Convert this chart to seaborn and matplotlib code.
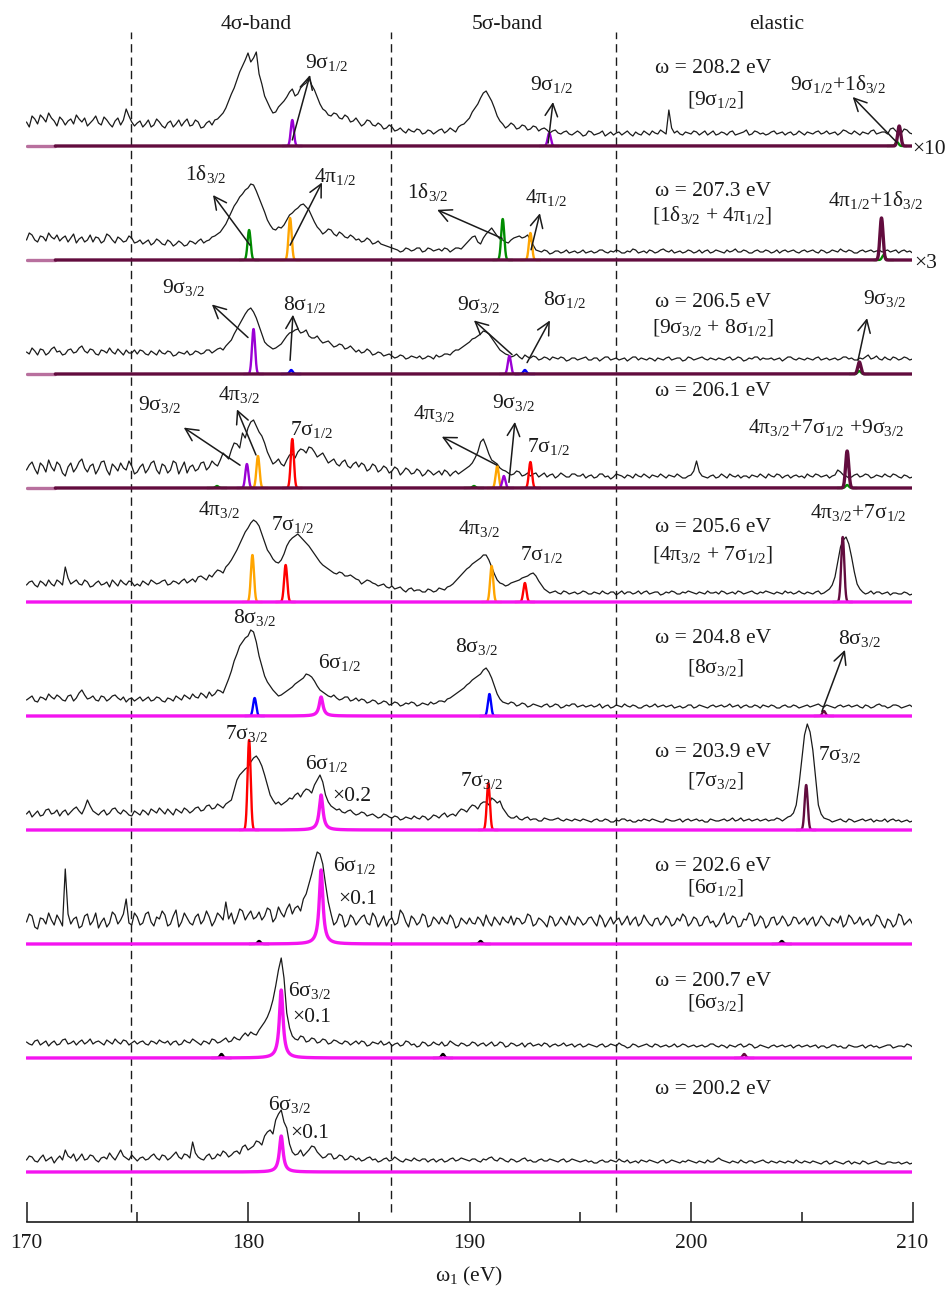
import numpy as np
import pandas as pd
import matplotlib
matplotlib.use("Agg")
import matplotlib.pyplot as plt
from matplotlib.ticker import MultipleLocator
import seaborn as sns

# ---------------------------------------------------------------- data
ENERGY = np.arange(170.0, 210.001, 0.25)          # omega_1 grid (eV)
ENERGY_MID = ENERGY[:-1] + 0.125                   # readings between grid points
OMEGA = ["208.2", "207.3", "206.5", "206.1", "205.6",
         "204.8", "203.9", "202.6", "200.7", "200.2"]
BOUNDARIES = [174.7, 186.46, 196.63]               # dashed region borders (eV)

SPEC_1 = [24, 30, 22, 28, 33, 25, 29, 21, 27, 31, 24, 20, 26, 23, 29, 22, 25, 21, 37, 24,
          23, 19, 26, 21, 24, 18, 25, 22, 20, 27, 21, 24, 19, 25, 26, 30, 38, 52, 66, 80,
          93, 88, 72, 50, 38, 34, 42, 49, 57, 52, 61, 68, 56, 42, 35, 30, 32, 27, 29, 25,
          24, 22, 25, 20, 21, 18, 19, 16, 15, 17, 14, 16, 13, 15, 14, 17, 15, 16, 19, 22,
          28, 38, 48, 55, 45, 30, 22, 20, 21, 18, 20, 17, 19, 17, 16, 15, 13, 14, 12, 13,
          13, 11, 14, 12, 15, 12, 11, 14, 13, 12, 14, 11, 13, 15, 12, 14, 36, 13, 12, 14,
          12, 14, 13, 11, 15, 12, 13, 14, 11, 13, 16, 12, 14, 13, 12, 15, 13, 11, 14, 12,
          13, 14, 12, 15, 13, 12, 14, 13, 15, 12, 13, 14, 12, 16, 13, 14, 17, 15, 13, 16,
          12]
SPEC_1_MID = [19, 27, 31, 24, 28, 20, 26, 25, 22, 27, 28, 23, 30, 21, 26, 19, 28, 26, 30, 20,
              25, 22, 19, 27, 20, 23, 19, 26, 24, 20, 26, 18, 23, 21, 27, 33, 45, 58, 74, 86,
              84, 94, 62, 44, 33, 39, 45, 54, 50, 58, 63, 61, 49, 37, 31, 33, 28, 31, 24, 28,
              20, 26, 21, 23, 17, 21, 15, 18, 13, 15, 17, 12, 16, 12, 16, 13, 18, 14, 21, 25,
              34, 42, 53, 50, 38, 25, 18, 23, 17, 21, 16, 20, 15, 18, 13, 16, 12, 15, 11, 15,
              10, 15, 11, 13, 10, 14, 13, 11, 15, 10, 12, 15, 11, 13, 16, 12, 18, 15, 11, 13,
              15, 11, 15, 13, 11, 14, 11, 15, 12, 14, 11, 15, 12, 11, 14, 12, 14, 13, 11, 15,
              11, 13, 14, 12, 15, 13, 11, 16, 13, 15, 11, 13, 15, 12, 14, 12, 18, 12, 17, 13]
SPEC_2 = [20, 25, 18, 23, 27, 21, 19, 24, 22, 17, 23, 20, 18, 22, 19, 24, 17, 21, 19, 22,
          18, 16, 20, 17, 19, 15, 18, 16, 17, 15, 18, 19, 17, 20, 24, 28, 36, 48, 58, 66,
          72, 75, 62, 48, 35, 30, 32, 40, 47, 52, 56, 50, 38, 30, 28, 30, 24, 26, 22, 23,
          21, 19, 20, 17, 16, 14, 12, 10, 9, 11, 10, 12, 9, 11, 10, 9, 11, 10, 12, 14,
          20, 24, 16, 26, 32, 24, 20, 17, 22, 24, 23, 20, 10, 8, 9, 7, 9, 8, 7, 9,
          8, 7, 9, 8, 10, 7, 8, 9, 7, 8, 10, 8, 7, 9, 8, 11, 8, 7, 9, 8,
          9, 8, 7, 10, 8, 9, 7, 8, 11, 8, 9, 7, 10, 8, 9, 8, 7, 10, 9, 8,
          9, 8, 10, 7, 9, 8, 9, 11, 8, 9, 7, 10, 9, 8, 10, 9, 8, 10, 9, 8,
          7]
SPEC_2_MID = [27, 20, 24, 19, 23, 25, 22, 18, 26, 21, 18, 25, 23, 17, 26, 20, 23, 18, 24, 17,
              20, 18, 15, 21, 16, 20, 14, 19, 14, 19, 16, 21, 19, 23, 26, 32, 42, 54, 63, 70,
              76, 69, 55, 40, 31, 33, 35, 45, 50, 55, 53, 44, 33, 26, 31, 26, 28, 23, 25, 20,
              18, 22, 16, 19, 15, 13, 11, 8, 12, 9, 12, 8, 12, 9, 11, 12, 8, 12, 11, 17,
              23, 18, 22, 29, 28, 21, 18, 20, 23, 22, 25, 15, 9, 10, 6, 9, 7, 10, 8, 7,
              10, 8, 7, 10, 8, 9, 10, 7, 9, 11, 7, 9, 10, 7, 10, 9, 10, 8, 7, 10,
              7, 10, 9, 7, 10, 8, 10, 9, 8, 10, 7, 9, 8, 10, 7, 10, 9, 8, 10, 7,
              10, 9, 8, 10, 7, 10, 8, 9, 10, 7, 9, 8, 10, 9, 8, 10, 9, 7, 10, 9]
SPEC_3 = [22, 26, 19, 24, 21, 27, 23, 20, 25, 22, 28, 21, 24, 19, 23, 26, 20, 22, 24, 21,
          20, 23, 19, 21, 24, 20, 22, 19, 21, 23, 20, 22, 21, 24, 23, 26, 28, 34, 45, 55,
          64, 62, 48, 32, 27, 26, 30, 38, 42, 45, 42, 38, 36, 34, 32, 30, 28, 29, 26, 25,
          24, 22, 23, 20, 21, 19, 18, 17, 18, 16, 17, 18, 16, 17, 19, 18, 20, 22, 24, 28,
          32, 36, 40, 42, 36, 28, 22, 19, 18, 17, 19, 16, 17, 15, 16, 17, 15, 16, 14, 16,
          15, 17, 14, 16, 15, 17, 15, 14, 16, 15, 17, 16, 14, 15, 16, 14, 17, 15, 16, 14,
          16, 15, 17, 14, 15, 16, 14, 17, 15, 16, 14, 15, 17, 16, 15, 14, 16, 15, 17, 14,
          15, 16, 14, 17, 15, 14, 16, 15, 17, 16, 14, 15, 19, 16, 15, 17, 14, 16, 15, 16,
          15]
SPEC_3_MID = [20, 23, 25, 19, 25, 22, 19, 24, 21, 26, 23, 25, 20, 24, 21, 22, 25, 19, 21, 24,
              24, 20, 23, 19, 21, 23, 18, 22, 20, 19, 23, 20, 24, 21, 25, 24, 31, 40, 50, 60,
              66, 56, 40, 29, 25, 28, 34, 41, 44, 41, 44, 36, 38, 31, 33, 27, 30, 25, 28, 22,
              21, 25, 19, 22, 18, 20, 16, 19, 15, 18, 16, 15, 18, 15, 17, 20, 19, 24, 26, 30,
              35, 38, 43, 40, 32, 24, 20, 17, 20, 15, 17, 18, 14, 17, 14, 16, 17, 13, 16, 14,
              16, 14, 16, 13, 17, 14, 16, 15, 13, 17, 14, 15, 16, 13, 15, 16, 14, 16, 13, 17,
              14, 16, 15, 16, 14, 15, 16, 14, 17, 13, 16, 17, 14, 15, 16, 15, 13, 17, 15, 16,
              14, 15, 16, 14, 16, 15, 14, 17, 15, 14, 16, 17, 15, 18, 14, 15, 17, 14, 17, 14]
SPEC_4 = [18, 26, 14, 22, 28, 17, 23, 12, 25, 20, 29, 16, 24, 19, 27, 13, 21, 25, 18, 22,
          16, 24, 19, 27, 14, 22, 18, 25, 20, 15, 23, 19, 26, 21, 24, 28, 32, 38, 44, 55,
          60, 68, 56, 45, 30, 26, 24, 28, 34, 36, 38, 41, 36, 33, 30, 27, 24, 26, 22, 24,
          21, 23, 19, 22, 18, 20, 17, 19, 16, 18, 15, 17, 14, 16, 15, 13, 16, 15, 14, 18,
          22, 30, 46, 42, 28, 24, 18, 15, 14, 16, 13, 12, 15, 13, 11, 14, 12, 13, 11, 14,
          12, 10, 13, 11, 14, 12, 11, 13, 10, 12, 14, 11, 12, 13, 11, 12, 13, 11, 12, 10,
          13, 27, 12, 10, 13, 11, 12, 14, 11, 10, 12, 13, 11, 12, 14, 11, 13, 12, 10, 13,
          12, 14, 11, 13, 12, 10, 13, 16, 12, 11, 14, 12, 13, 11, 12, 14, 11, 13, 10, 12,
          11]
SPEC_4_MID = [23, 19, 25, 16, 21, 26, 15, 21, 16, 26, 20, 22, 14, 26, 18, 24, 17, 20, 27, 14,
              21, 15, 25, 18, 24, 15, 27, 14, 26, 21, 17, 25, 18, 27, 22, 35, 29, 45, 40, 50,
              66, 62, 52, 36, 24, 29, 22, 33, 30, 39, 35, 40, 31, 35, 25, 29, 22, 28, 20, 26,
              25, 17, 24, 16, 22, 15, 21, 13, 20, 14, 19, 12, 18, 13, 17, 18, 12, 17, 16, 20,
              25, 36, 49, 34, 26, 20, 17, 13, 17, 12, 15, 14, 11, 15, 13, 10, 15, 11, 14, 12,
              14, 12, 10, 14, 11, 9, 14, 12, 13, 10, 12, 14, 10, 12, 14, 10, 12, 14, 10, 12,
              17, 16, 11, 12, 10, 14, 10, 12, 13, 12, 10, 12, 14, 10, 12, 14, 10, 13, 12, 11,
              10, 12, 14, 11, 13, 12, 18, 13, 10, 13, 11, 14, 10, 13, 11, 12, 14, 11, 13, 10]
SPEC_5 = [17, 21, 15, 19, 22, 16, 20, 35, 18, 22, 17, 20, 16, 21, 18, 15, 19, 22, 17, 20,
          18, 21, 17, 20, 19, 22, 18, 20, 21, 19, 23, 25, 24, 27, 29, 31, 35, 42, 52, 64,
          74, 82, 76, 60, 48, 40, 42, 56, 64, 68, 62, 56, 48, 40, 35, 31, 28, 29, 26, 25,
          22, 20, 21, 18, 17, 15, 16, 14, 12, 13, 11, 12, 10, 12, 11, 13, 15, 18, 24, 30,
          35, 40, 44, 47, 35, 22, 18, 17, 20, 22, 25, 28, 26, 17, 11, 10, 9, 11, 8, 10,
          9, 10, 8, 9, 11, 8, 10, 9, 8, 10, 9, 8, 11, 9, 10, 8, 9, 10, 8, 9,
          10, 8, 9, 11, 9, 8, 10, 9, 8, 10, 9, 11, 8, 9, 10, 8, 9, 11, 10, 9,
          9, 10, 8, 11, 9, 13, 25, 55, 65, 45, 18, 10, 9, 8, 10, 9, 7, 9, 8, 9,
          8]
SPEC_5_MID = [20, 17, 21, 16, 18, 22, 17, 24, 20, 18, 22, 15, 19, 17, 20, 22, 16, 19, 21, 16,
              16, 19, 22, 18, 21, 17, 21, 18, 23, 21, 20, 26, 22, 25, 32, 29, 38, 47, 58, 70,
              79, 80, 68, 52, 43, 39, 48, 61, 66, 65, 59, 52, 44, 37, 33, 29, 30, 26, 27, 23,
              18, 22, 19, 16, 18, 14, 13, 15, 10, 14, 12, 10, 13, 10, 14, 12, 16, 21, 27, 33,
              38, 42, 47, 42, 28, 19, 16, 19, 21, 24, 26, 29, 21, 13, 9, 11, 8, 10, 9, 8,
              11, 8, 10, 8, 9, 10, 7, 11, 10, 8, 11, 10, 8, 10, 7, 10, 11, 8, 10, 11,
              9, 10, 8, 9, 10, 11, 8, 10, 11, 8, 10, 9, 10, 11, 9, 10, 8, 9, 8, 11,
              8, 9, 10, 8, 11, 17, 40, 62, 58, 30, 13, 8, 11, 10, 8, 10, 9, 8, 10, 7]
SPEC_6 = [16, 20, 14, 18, 22, 17, 19, 15, 21, 18, 26, 17, 20, 15, 19, 17, 21, 16, 14, 18,
          17, 15, 19, 16, 18, 14, 17, 20, 16, 19, 22, 18, 21, 24, 22, 25, 30, 45, 62, 74,
          80, 84, 60, 40, 30, 23, 21, 25, 29, 34, 38, 41, 35, 26, 22, 19, 18, 17, 19, 16,
          15, 16, 14, 15, 13, 14, 12, 13, 11, 12, 13, 11, 12, 14, 13, 15, 17, 20, 24, 28,
          33, 38, 42, 48, 38, 22, 14, 12, 13, 11, 12, 10, 11, 9, 12, 10, 11, 9, 10, 12,
          10, 9, 11, 10, 8, 11, 9, 10, 12, 9, 10, 8, 11, 10, 9, 11, 10, 8, 10, 9,
          11, 9, 10, 8, 11, 10, 9, 12, 10, 8, 11, 9, 10, 11, 9, 10, 8, 11, 9, 10,
          9, 11, 10, 12, 9, 10, 8, 11, 10, 9, 11, 8, 10, 9, 12, 10, 9, 11, 8, 10,
          9]
SPEC_6_MID = [18, 15, 19, 16, 19, 21, 16, 20, 15, 23, 21, 18, 16, 20, 15, 20, 18, 19, 17, 15,
              19, 17, 15, 19, 15, 18, 15, 18, 21, 17, 19, 23, 18, 20, 26, 23, 37, 55, 70, 78,
              86, 74, 50, 34, 26, 20, 23, 27, 32, 36, 42, 39, 30, 24, 20, 21, 16, 19, 15, 18,
              17, 13, 16, 12, 15, 11, 14, 10, 13, 14, 10, 13, 11, 12, 15, 14, 18, 22, 26, 31,
              36, 40, 46, 44, 30, 17, 13, 14, 10, 13, 9, 12, 10, 11, 9, 12, 8, 11, 12, 9,
              11, 10, 9, 12, 10, 8, 11, 9, 10, 11, 8, 10, 9, 12, 10, 9, 11, 9, 8, 11,
              8, 11, 9, 10, 9, 11, 10, 9, 11, 10, 9, 11, 8, 10, 11, 8, 10, 9, 11, 8,
              10, 9, 11, 10, 11, 9, 10, 9, 11, 10, 9, 11, 8, 11, 10, 8, 11, 10, 9, 11]
SPEC_7 = [16, 13, 19, 15, 21, 17, 14, 20, 18, 23, 16, 30, 19, 15, 20, 17, 22, 16, 18, 14,
          17, 20, 15, 19, 22, 16, 18, 21, 17, 20, 19, 23, 20, 25, 22, 24, 26, 30, 50, 58,
          63, 72, 70, 55, 35, 26, 25, 29, 31, 37, 38, 40, 45, 55, 35, 24, 20, 18, 19, 17,
          16, 17, 15, 14, 13, 15, 12, 13, 11, 12, 14, 11, 13, 12, 14, 15, 13, 16, 18, 20,
          22, 24, 26, 28, 32, 27, 22, 14, 12, 11, 12, 10, 11, 9, 11, 10, 12, 9, 10, 11,
          9, 10, 8, 11, 9, 10, 8, 9, 11, 10, 8, 9, 10, 11, 9, 8, 10, 9, 11, 10,
          9, 11, 10, 8, 10, 9, 11, 10, 9, 12, 10, 9, 11, 10, 9, 10, 11, 11, 14, 25,
          70, 106, 80, 25, 12, 10, 9, 11, 8, 10, 9, 11, 10, 8, 9, 11, 10, 9, 8, 10,
          9]
SPEC_7_MID = [19, 16, 14, 20, 16, 20, 18, 15, 21, 19, 22, 24, 17, 18, 15, 21, 18, 20, 15, 19,
              15, 18, 21, 17, 19, 21, 15, 19, 22, 17, 22, 19, 24, 21, 26, 22, 28, 40, 55, 61,
              68, 74, 64, 45, 30, 28, 27, 32, 35, 33, 41, 37, 50, 48, 28, 22, 21, 17, 20, 15,
              18, 14, 16, 12, 16, 13, 14, 10, 13, 11, 12, 14, 10, 15, 12, 17, 15, 14, 21, 18,
              25, 21, 28, 25, 30, 29, 18, 12, 14, 10, 13, 11, 9, 12, 10, 11, 10, 11, 9, 10,
              11, 9, 10, 9, 11, 8, 10, 11, 9, 8, 10, 11, 9, 10, 8, 11, 9, 10, 8, 11,
              10, 9, 8, 11, 9, 10, 9, 12, 10, 9, 11, 10, 9, 11, 10, 12, 9, 13, 17, 45,
              95, 98, 52, 16, 11, 8, 10, 9, 11, 8, 10, 9, 11, 10, 9, 8, 11, 10, 9, 8]
SPEC_8 = [22, 28, 15, 25, 31, 19, 24, 75, 20, 27, 18, 30, 23, 16, 26, 21, 29, 24, 45, 19,
          27, 21, 32, 18, 25, 29, 20, 34, 22, 26, 19, 30, 24, 27, 23, 28, 42, 31, 26, 33,
          29, 25, 32, 28, 34, 26, 31, 35, 30, 38, 45, 60, 82, 90, 60, 30, 22, 28, 20, 26,
          23, 29, 19, 27, 22, 18, 26, 21, 30, 17, 25, 22, 28, 19, 24, 27, 20, 25, 18, 23,
          26, 20, 24, 29, 18, 23, 27, 21, 19, 25, 22, 28, 20, 24, 17, 26, 21, 23, 28, 19,
          24, 21, 27, 18, 25, 22, 20, 26, 23, 19, 27, 21, 24, 18, 26, 22, 25, 20, 23, 27,
          21, 25, 19, 28, 23, 20, 31, 22, 26, 18, 24, 29, 21, 25, 19, 27, 22, 24, 20, 26,
          23, 19, 27, 22, 25, 18, 24, 28, 20, 26, 22, 19, 25, 21, 27, 16, 23, 20, 28, 22,
          20]
SPEC_8_MID = [30, 17, 26, 20, 24, 29, 18, 30, 25, 16, 28, 19, 31, 22, 17, 32, 20, 30, 21, 31,
              19, 30, 22, 27, 33, 18, 28, 17, 31, 21, 27, 20, 33, 18, 31, 24, 25, 20, 35, 24,
              33, 27, 24, 36, 22, 37, 27, 40, 36, 33, 50, 70, 92, 80, 42, 19, 30, 17, 29, 19,
              27, 21, 31, 17, 28, 24, 19, 34, 22, 28, 19, 30, 17, 27, 20, 22, 29, 16, 26, 20,
              21, 27, 18, 22, 27, 19, 23, 28, 26, 20, 30, 18, 26, 21, 28, 18, 27, 19, 22, 27,
              19, 26, 22, 29, 17, 27, 24, 19, 28, 24, 18, 29, 20, 25, 19, 28, 18, 26, 30, 18,
              27, 18, 26, 21, 17, 26, 20, 28, 17, 25, 31, 18, 28, 16, 26, 19, 28, 18, 27, 20,
              26, 24, 18, 28, 20, 26, 21, 17, 29, 20, 27, 23, 18, 29, 20, 25, 17, 30, 19, 25]
SPEC_9 = [16, 13, 18, 15, 12, 17, 14, 19, 15, 13, 18, 16, 14, 17, 13, 16, 19, 14, 17, 15,
          14, 17, 13, 16, 18, 15, 13, 17, 14, 16, 19, 15, 17, 14, 18, 16, 20, 17, 19, 22,
          22, 24, 28, 36, 48, 72, 100, 45, 22, 18, 21, 17, 19, 16, 18, 15, 17, 14, 16, 15,
          14, 16, 13, 15, 17, 14, 12, 15, 13, 16, 14, 12, 15, 13, 14, 16, 13, 15, 12, 14,
          13, 15, 14, 12, 16, 13, 15, 12, 14, 13, 11, 15, 13, 12, 14, 13, 12, 15, 13, 11,
          14, 12, 13, 11, 14, 12, 13, 15, 12, 11, 13, 12, 14, 11, 13, 12, 11, 14, 12, 13,
          12, 11, 13, 12, 14, 11, 12, 13, 11, 14, 12, 13, 11, 12, 10, 13, 12, 11, 13, 12,
          11, 13, 12, 10, 12, 11, 13, 12, 10, 12, 11, 13, 12, 11, 10, 12, 13, 11, 12, 14,
          11]
SPEC_9_MID = [14, 17, 13, 17, 15, 13, 18, 14, 17, 16, 14, 19, 16, 15, 18, 14, 16, 18, 13, 17,
              16, 14, 17, 14, 16, 17, 16, 13, 18, 15, 17, 13, 16, 19, 15, 18, 16, 21, 18, 25,
              26, 23, 32, 41, 58, 88, 80, 30, 19, 22, 16, 20, 15, 19, 14, 18, 15, 17, 13, 17,
              17, 12, 16, 14, 13, 16, 14, 12, 17, 13, 11, 16, 12, 16, 13, 12, 17, 13, 15, 12,
              16, 12, 15, 14, 12, 16, 11, 15, 12, 15, 14, 12, 14, 15, 11, 14, 13, 12, 14, 13,
              11, 14, 12, 13, 11, 14, 12, 13, 10, 14, 11, 13, 12, 14, 11, 13, 12, 11, 14, 11,
              13, 12, 11, 14, 12, 13, 10, 12, 13, 11, 14, 10, 13, 11, 12, 11, 13, 12, 10, 13,
              12, 11, 13, 12, 10, 13, 11, 10, 13, 11, 12, 10, 13, 12, 11, 13, 10, 12, 11, 13]
SPEC_10 = [12, 15, 10, 17, 13, 9, 16, 22, 14, 11, 18, 13, 16, 10, 15, 19, 12, 22, 14, 17,
           11, 15, 13, 18, 12, 16, 14, 20, 13, 17, 30, 15, 12, 18, 14, 16, 19, 17, 21, 25,
           22, 26, 30, 36, 42, 52, 62, 44, 20, 18, 16, 22, 25, 17, 15, 18, 14, 16, 13, 15,
           14, 12, 15, 13, 11, 14, 12, 13, 10, 12, 14, 11, 13, 12, 10, 13, 11, 14, 12, 13,
           11, 13, 10, 12, 15, 11, 13, 10, 12, 11, 14, 12, 10, 13, 11, 12, 10, 13, 11, 12,
           10, 12, 11, 9, 12, 10, 11, 13, 10, 9, 11, 12, 10, 11, 9, 12, 10, 11, 9, 10,
           11, 9, 10, 12, 10, 14, 11, 9, 10, 12, 9, 11, 10, 12, 9, 10, 11, 9, 10, 12,
           9, 10, 11, 9, 10, 8, 11, 9, 10, 8, 9, 11, 8, 10, 9, 8, 10, 9, 8, 10,
           9]
SPEC_10_MID = [16, 11, 14, 11, 15, 13, 12, 16, 18, 14, 12, 17, 12, 14, 13, 15, 17, 16, 12, 14,
               14, 12, 16, 14, 17, 12, 17, 15, 18, 14, 19, 13, 16, 13, 18, 21, 15, 20, 18, 27,
               24, 31, 27, 40, 38, 58, 50, 28, 17, 22, 19, 26, 20, 14, 18, 13, 17, 12, 16, 12,
               11, 14, 12, 10, 13, 11, 15, 11, 13, 11, 12, 13, 10, 13, 12, 10, 13, 11, 14, 12,
               13, 11, 13, 14, 12, 14, 11, 13, 10, 13, 11, 10, 12, 11, 13, 11, 12, 10, 13, 11,
               11, 10, 9, 11, 10, 12, 10, 11, 12, 10, 9, 11, 12, 10, 11, 9, 12, 10, 11, 12,
               10, 11, 9, 10, 12, 12, 10, 11, 9, 10, 11, 9, 11, 10, 11, 9, 10, 11, 9, 10,
               11, 9, 10, 8, 11, 9, 10, 8, 11, 10, 8, 10, 9, 11, 8, 10, 9, 10, 9, 8]
SPECTRA = [SPEC_1, SPEC_2, SPEC_3, SPEC_4, SPEC_5, SPEC_6, SPEC_7, SPEC_8, SPEC_9, SPEC_10]
SPECTRA_MID = [SPEC_1_MID, SPEC_2_MID, SPEC_3_MID, SPEC_4_MID, SPEC_5_MID,
               SPEC_6_MID, SPEC_7_MID, SPEC_8_MID, SPEC_9_MID, SPEC_10_MID]

# theoretical components: (component, position eV, height)
PEAKS_1 = [("9s12", 182.0, 26), ("9s12", 193.6, 13), ("1d32", 209.3, 4), ("elastic", 209.4, 20)]
PEAKS_2 = [("1d32", 180.05, 30), ("4p12", 181.9, 42), ("1d32", 191.5, 41), ("4p12", 192.75, 27),
           ("1d32", 208.7, 5), ("elastic", 208.6, 42)]
PEAKS_3 = [("9s32", 180.25, 45), ("8s12", 181.95, 4), ("9s32", 191.8, 18), ("8s12", 192.5, 4),
           ("1d32", 207.6, 3), ("elastic", 207.6, 12)]
PEAKS_4 = [("1d32", 178.6, 2), ("9s32", 179.95, 24), ("4p32", 180.45, 32), ("7s12", 182.0, 49),
           ("1d32", 190.2, 2), ("4p32", 191.25, 22), ("9s32", 191.55, 12), ("7s12", 192.75, 26),
           ("1d32", 207.05, 3), ("elastic", 207.05, 37)]
PEAKS_5 = [("4p32", 180.2, 47), ("7s12", 181.7, 37), ("4p32", 191.0, 36), ("7s12", 192.5, 19),
           ("elastic", 206.85, 65)]
PEAKS_6 = [("8s32", 180.3, 18), ("6s12", 183.3, 19), ("8s32", 190.9, 22), ("elastic", 206.0, 5)]
PEAKS_7 = [("7s32", 180.05, 90), ("6s12", 183.3, 35), ("7s32", 190.85, 47), ("elastic", 205.2, 45)]
PEAKS_8 = [("6s12", 183.3, 74), ("other", 180.5, 3), ("other", 190.5, 3), ("other", 204.1, 3)]
PEAKS_9 = [("6s32", 181.5, 68), ("other", 178.8, 4), ("other", 188.8, 4), ("elastic", 202.4, 4)]
PEAKS_10 = [("6s32", 181.5, 36)]
PEAKS = [PEAKS_1, PEAKS_2, PEAKS_3, PEAKS_4, PEAKS_5, PEAKS_6, PEAKS_7, PEAKS_8, PEAKS_9, PEAKS_10]
BASE_COMPONENT = ["elastic"] * 4 + ["6s"] * 6

# ---------------------------------------------------------------- style
PANEL_H = 114.0
FS = 15.5
COLORS = {"9s12": "#9a00d4", "9s32": "#9a00d4", "1d32": "#008c00", "4p12": "#ffa500",
          "4p32": "#ffa500", "8s12": "#0000ff", "8s32": "#0000ff", "7s12": "#ff0000",
          "7s32": "#ff0000", "6s12": "#f414f0", "6s32": "#f414f0", "6s": "#f414f0",
          "elastic": "#620c3e", "other": "#000000"}

TEXTS = [
    ("4σ-band", 180.36, 10.09, "center"), ("5σ-band", 191.7, 10.09, "center"),
    ("elastic", 203.85, 10.09, "center"),
    ("9σ$_{1/2}$", 182.57, 9.754, "left"), ("9σ$_{1/2}$", 192.73, 9.553, "left"),
    ("ω = 208.2 eV", 198.37, 9.71, "left"), ("[9σ$_{1/2}$]", 199.81, 9.43, "left"),
    ("9σ$_{1/2}$+1δ$_{3/2}$", 204.47, 9.56, "left"), ("×10", 209.98, 9.0, "left"),
    ("1δ$_{3/2}$", 177.16, 8.77, "left"), ("4π$_{1/2}$", 182.98, 8.75, "left"),
    ("1δ$_{3/2}$", 187.18, 8.61, "left"), ("4π$_{1/2}$", 192.5, 8.57, "left"),
    ("ω = 207.3 eV", 198.37, 8.63, "left"),
    ("[1δ$_{3/2}$ + 4π$_{1/2}$]", 198.24, 8.41, "left"),
    ("4π$_{1/2}$+1δ$_{3/2}$", 206.19, 8.54, "left"), ("×3", 210.07, 8.0, "left"),
    ("9σ$_{3/2}$", 176.12, 7.78, "left"), ("8σ$_{1/2}$", 181.58, 7.63, "left"),
    ("9σ$_{3/2}$", 189.44, 7.63, "left"), ("8σ$_{1/2}$", 193.32, 7.67, "left"),
    ("ω = 206.5 eV", 198.37, 7.65, "left"),
    ("[9σ$_{3/2}$ + 8σ$_{1/2}$]", 198.24, 7.43, "left"),
    ("9σ$_{3/2}$", 207.75, 7.68, "left"),
    ("9σ$_{3/2}$", 175.04, 6.75, "left"), ("4π$_{3/2}$", 178.65, 6.84, "left"),
    ("7σ$_{1/2}$", 181.9, 6.53, "left"), ("4π$_{3/2}$", 187.45, 6.67, "left"),
    ("9σ$_{3/2}$", 191.0, 6.77, "left"), ("7σ$_{1/2}$", 192.6, 6.38, "left"),
    ("ω = 206.1 eV", 198.37, 6.87, "left"),
    ("4π$_{3/2}$+7σ$_{1/2}$ +9σ$_{3/2}$", 202.57, 6.55, "left"),
    ("4π$_{3/2}$", 177.74, 5.83, "left"), ("7σ$_{1/2}$", 181.04, 5.70, "left"),
    ("4π$_{3/2}$", 189.48, 5.66, "left"), ("7σ$_{1/2}$", 192.28, 5.43, "left"),
    ("ω = 205.6 eV", 198.37, 5.68, "left"),
    ("[4π$_{3/2}$ + 7σ$_{1/2}$]", 198.24, 5.44, "left"),
    ("4π$_{3/2}$+7σ$_{1/2}$", 205.36, 5.80, "left"),
    ("8σ$_{3/2}$", 179.32, 4.88, "left"), ("6σ$_{1/2}$", 183.16, 4.49, "left"),
    ("8σ$_{3/2}$", 189.34, 4.63, "left"), ("ω = 204.8 eV", 198.37, 4.71, "left"),
    ("[8σ$_{3/2}$]", 199.81, 4.45, "left"), ("8σ$_{3/2}$", 206.63, 4.70, "left"),
    ("7σ$_{3/2}$", 178.96, 3.86, "left"), ("6σ$_{1/2}$", 182.57, 3.60, "left"),
    ("×0.2", 183.79, 3.32, "left"), ("7σ$_{3/2}$", 189.57, 3.45, "left"),
    ("ω = 203.9 eV", 198.37, 3.71, "left"), ("[7σ$_{3/2}$]", 199.81, 3.46, "left"),
    ("7σ$_{3/2}$", 205.73, 3.68, "left"),
    ("6σ$_{1/2}$", 183.84, 2.71, "left"), ("×0.1", 184.07, 2.42, "left"),
    ("ω = 202.6 eV", 198.37, 2.71, "left"), ("[6σ$_{1/2}$]", 199.81, 2.52, "left"),
    ("6σ$_{3/2}$", 181.81, 1.61, "left"), ("×0.1", 181.99, 1.38, "left"),
    ("ω = 200.7 eV", 198.37, 1.70, "left"), ("[6σ$_{3/2}$]", 199.81, 1.51, "left"),
    ("6σ$_{3/2}$", 180.9, 0.61, "left"), ("×0.1", 181.9, 0.36, "left"),
    ("ω = 200.2 eV", 198.37, 0.75, "left"),
]
ARROWS = [  # (tail x, tail y, head x, head y)
    (182.0, 9.053, 182.8, 9.623), (193.55, 9.026, 193.77, 9.386), (209.3, 9.03, 207.3, 9.43),
    (180.09, 8.13, 178.42, 8.57), (181.9, 8.13, 183.34, 8.68),
    (191.47, 8.19, 188.54, 8.44), (192.78, 8.09, 193.18, 8.41),
    (180.0, 7.32, 178.37, 7.61), (181.9, 7.12, 182.03, 7.52),
    (191.92, 7.17, 190.2, 7.47), (192.6, 7.10, 193.63, 7.47), (207.54, 7.12, 207.95, 7.49),
    (179.64, 6.20, 177.1, 6.53), (180.36, 6.29, 179.5, 6.69),
    (191.24, 6.20, 188.75, 6.45), (191.78, 6.05, 192.05, 6.58),
    (205.91, 4.04, 206.95, 4.58),
]

# ---------------------------------------------------------------- setup
sns.set_theme(style="white")
plt.rcParams["font.family"] = ["Liberation Serif", "DejaVu Serif"]
plt.rcParams["mathtext.fontset"] = "custom"
plt.rcParams["mathtext.rm"] = "Liberation Serif"
plt.rcParams["mathtext.it"] = "Liberation Serif:italic"
plt.rcParams["mathtext.default"] = "regular"

fig = plt.figure(figsize=(9.53, 12.92), dpi=100, facecolor="white")
ax = fig.add_axes([26.5 / 953, 1 - 1222 / 1292, 886 / 953, 1190 / 1292])
ax.set_facecolor("white")

for s, sm in zip(SPECTRA, SPECTRA_MID):
    assert len(s) == len(ENERGY), len(s)
    assert len(sm) == len(ENERGY_MID), len(sm)

# dashed region boundaries
ax.vlines(BOUNDARIES, -0.35, 10.0, colors="k", linestyles=(0, (6, 3.6)), lw=1.0, zorder=1)

# measured spectra
frames = []
for i, (s, sm) in enumerate(zip(SPECTRA, SPECTRA_MID)):
    off = 9 - i
    e = np.concatenate([ENERGY, ENERGY_MID])
    v = np.concatenate([s, sm]).astype(float)
    frames.append(pd.DataFrame({"panel": i, "energy": e, "y": off + v / PANEL_H}))
df = pd.concat(frames).sort_values(["panel", "energy"]).reset_index(drop=True)
sns.lineplot(data=df, x="energy", y="y", units="panel", estimator=None, sort=False,
             color="k", lw=0.9, ax=ax, zorder=2, legend=False)

# theory components
xf = np.linspace(170, 210, 8001)


def shape(x, pos, h, comp):
    if comp.startswith("6s"):
        return h / (1.0 + ((x - pos) / 0.1) ** 2)
    return h * np.exp(-0.5 * ((x - pos) / 0.07) ** 2)


for i, peaks in enumerate(PEAKS):
    off = 9 - i
    base_col = COLORS[BASE_COMPONENT[i]]
    base_y = np.zeros_like(xf)
    for comp, pos, h in peaks:
        col = COLORS[comp]
        prof = shape(xf, pos, h, comp)
        if col == base_col:
            base_y += prof
        else:
            m = np.abs(xf - pos) < 0.45
            ax.plot(xf[m], off + prof[m] / PANEL_H, color=col, lw=1.7, zorder=3)
    if i < 4:
        m0 = xf <= 171.3
        ax.plot(xf[m0], off + base_y[m0] / PANEL_H, color="#b8709e", lw=2.4, zorder=4)
        m1 = xf >= 171.3
        ax.plot(xf[m1], off + base_y[m1] / PANEL_H, color=base_col, lw=2.4, zorder=4)
    else:
        ax.plot(xf, off + base_y / PANEL_H, color=base_col, lw=2.4, zorder=4)

# labels
for txt, x, y, ha in TEXTS:
    ax.text(x, y - 7.5 / PANEL_H, txt, ha=ha, va="baseline", fontsize=FS, color="k",
            zorder=6, clip_on=False)
for x0, y0, x1, y1 in ARROWS:
    ax.annotate("", xy=(x1, y1), xytext=(x0, y0),
                arrowprops=dict(arrowstyle="->,head_length=0.5,head_width=0.25", color="k",
                                lw=1.1, shrinkA=0, shrinkB=0, mutation_scale=18),
                zorder=5)

# axes
ax.set_xlim(170, 210)
ax.set_ylim(-50 / PANEL_H, 1140 / PANEL_H)
for sp in ["left", "right", "top"]:
    ax.spines[sp].set_visible(False)
ax.spines["bottom"].set_color("k")
ax.spines["bottom"].set_linewidth(1.2)
ax.set_yticks([])
ax.xaxis.set_major_locator(MultipleLocator(10))
ax.xaxis.set_minor_locator(MultipleLocator(5))
ax.tick_params(axis="x", which="major", direction="in", length=14.4, width=1.1,
               bottom=True, labelsize=FS, pad=9, colors="k")
ax.tick_params(axis="x", which="minor", direction="in", length=7.2, width=1.1, bottom=True,
               colors="k")
ax.set_xlabel("ω$_1$ (eV)", fontsize=FS, labelpad=8, color="k")
ax.set_ylabel("")

fig.savefig("out.png", dpi=100, facecolor="white")
